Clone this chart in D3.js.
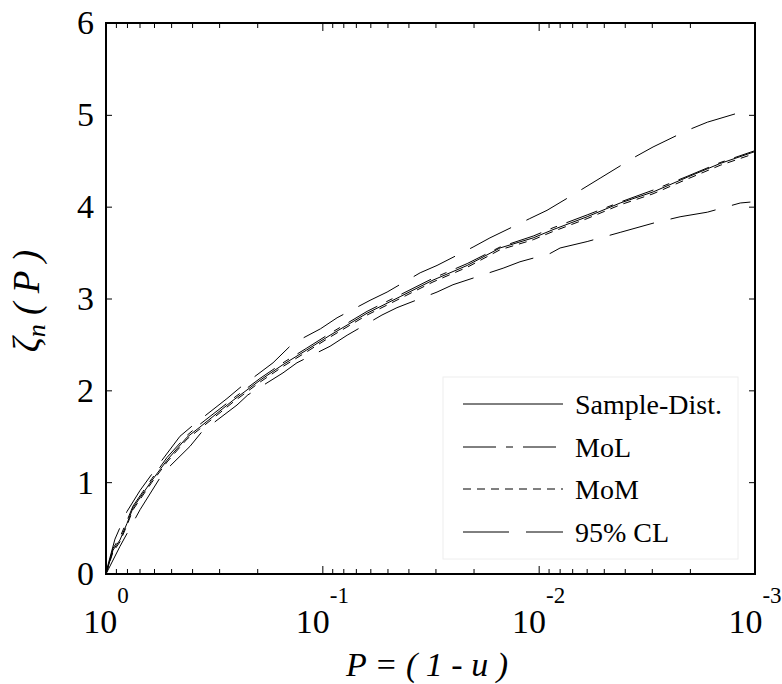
<!DOCTYPE html>
<html>
<head>
<meta charset="utf-8">
<script src="https://cdn.jsdelivr.net/npm/d3@7"></script>
<style>
  html, body { margin: 0; padding: 0; background: #fff; }
  svg { display: block; }
</style>
</head>
<body>
<svg id="chart" width="782" height="684"></svg>
<script>
// ---------- data ----------
const pCenter = [1, 0.928, 0.862, 0.800, 0.750, 0.674, 0.613, 0.522, 0.422, 0.368, 0.259, 0.194, 0.152, 0.118,
  0.0921, 0.0621, 0.0437, 0.0308, 0.0214, 0.0151, 0.0106, 0.00858, 0.00597, 0.00420, 0.00296, 0.00206, 0.00145, 0.001];
const sampleDist = [0, 0.26, 0.37, 0.55, 0.72, 0.88, 1.02, 1.24, 1.49, 1.60, 1.89, 2.11, 2.28, 2.44,
  2.60, 2.84, 3.02, 3.20, 3.36, 3.55, 3.66, 3.75, 3.89, 4.04, 4.16, 4.32, 4.47, 4.60];
const moL = [0, 0.28, 0.40, 0.58, 0.74, 0.90, 1.04, 1.27, 1.51, 1.63, 1.91, 2.13, 2.30, 2.46,
  2.62, 2.86, 3.04, 3.22, 3.38, 3.56, 3.68, 3.77, 3.91, 4.05, 4.18, 4.33, 4.48, 4.61];
const moM = [0, 0.24, 0.35, 0.53, 0.70, 0.86, 1.00, 1.22, 1.47, 1.58, 1.87, 2.09, 2.26, 2.42,
  2.58, 2.82, 3.00, 3.18, 3.34, 3.53, 3.64, 3.73, 3.87, 4.02, 4.14, 4.30, 4.45, 4.58];

const pUpper = [1, 0.909, 0.800, 0.696, 0.563, 0.455, 0.396, 0.276, 0.240, 0.169, 0.137, 0.102, 0.0855, 0.0602,
  0.0502, 0.0353, 0.0295, 0.0201, 0.0168, 0.0110, 0.00915, 0.00716, 0.00520, 0.00366, 0.00296, 0.00206, 0.00166, 0.00105];
const clUpper = [0.02, 0.38, 0.68, 0.91, 1.21, 1.50, 1.62, 1.91, 2.03, 2.30, 2.51, 2.67, 2.79, 2.98,
  3.07, 3.28, 3.36, 3.56, 3.66, 3.87, 3.96, 4.11, 4.31, 4.53, 4.65, 4.83, 4.92, 5.06];

const pLower = [1, 0.862, 0.696, 0.545, 0.409, 0.360, 0.248, 0.221, 0.152, 0.131, 0.0921, 0.0768, 0.0530, 0.0452,
  0.0295, 0.0249, 0.0146, 0.0122, 0.00886, 0.00796, 0.00597, 0.00420, 0.00296, 0.00222, 0.00166, 0.00117, 0.00105];
const clLower = [0, 0.30, 0.70, 1.10, 1.39, 1.55, 1.84, 1.95, 2.19, 2.30, 2.48, 2.60, 2.82, 2.90,
  3.07, 3.15, 3.33, 3.40, 3.49, 3.55, 3.62, 3.72, 3.82, 3.89, 3.94, 4.04, 4.05];

const xMajorTicks = [1, 0.1, 0.01, 0.001];
const xMajorExp = ["0", "-1", "-2", "-3"];
const yTicks = [0, 1, 2, 3, 4, 5, 6];
const legendLabels = ["Sample-Dist.", "MoL", "MoM", "95% CL"];

// ---------- layout ----------
const FONT = "'Liberation Serif', 'Times New Roman', Times, 'DejaVu Serif', serif";
const NARROW = "'Liberation Serif', 'Liberation Sans Narrow', 'Arial Narrow', 'Liberation Sans', sans-serif";
const svg = d3.select("#chart").attr("font-family", FONT);
const L = 106, R = 755, T = 23, B = 574;
const x = d3.scaleLog().domain([1, 0.001]).range([L, R]);
const y = d3.scaleLinear().domain([0, 6]).range([B, T]);

const xMinor = [];
for (let k = 0; k < 3; k++) for (let m = 2; m <= 9; m++) xMinor.push(m * Math.pow(10, -(k + 1)));

function styleAxis(g) {
  g.attr("font-family", FONT);
  g.select(".domain").remove();
  g.selectAll(".tick line").attr("stroke", "#000").attr("stroke-width", 1);
}
svg.append("g").attr("transform", `translate(0,${B})`)
  .call(d3.axisBottom(x).tickValues(xMinor).tickSizeInner(-5).tickSizeOuter(0).tickFormat(""))
  .call(styleAxis);
svg.append("g").attr("transform", `translate(0,${B})`)
  .call(d3.axisBottom(x).tickValues(xMajorTicks).tickSizeInner(-8).tickSizeOuter(0).tickFormat(""))
  .call(styleAxis);
svg.append("g").attr("transform", `translate(0,${T})`)
  .call(d3.axisTop(x).tickValues(xMinor).tickSizeInner(-5).tickSizeOuter(0).tickFormat(""))
  .call(styleAxis);
svg.append("g").attr("transform", `translate(0,${T})`)
  .call(d3.axisTop(x).tickValues(xMajorTicks).tickSizeInner(-8).tickSizeOuter(0).tickFormat(""))
  .call(styleAxis);

const yAxisG = svg.append("g").attr("transform", `translate(${L},0)`)
  .call(d3.axisLeft(y).tickValues(yTicks).tickSizeInner(-6).tickSizeOuter(0).tickPadding(12).tickFormat(d3.format("d")))
  .call(styleAxis);
yAxisG.selectAll(".tick text").attr("font-size", 34).attr("font-family", NARROW).attr("fill", "#000");
svg.append("g").attr("transform", `translate(${R},0)`)
  .call(d3.axisRight(y).tickValues(yTicks).tickSizeInner(-6).tickSizeOuter(0).tickFormat(""))
  .call(styleAxis);

// x tick labels with superscripts
xMajorTicks.forEach((v, i) => {
  const t = svg.append("text")
    .attr("x", x(v)).attr("y", 633)
    .attr("text-anchor", "middle")
    .attr("font-family", NARROW)
    .attr("font-size", 34)
    .text("10");
  t.append("tspan").attr("dy", -30).attr("font-size", 23).text(xMajorExp[i]);
});

// ---------- curves ----------
const line = d3.line().x(d => x(d[0])).y(d => y(d[1]));
const plot = svg.append("g");
function drawSeries(ps, vs, dash) {
  plot.append("path")
    .datum(ps.map((p, i) => [p, vs[i]]))
    .attr("d", line)
    .attr("fill", "none")
    .attr("stroke", "#000")
    .attr("stroke-width", 1)
    .attr("stroke-dasharray", dash);
}
const dashSample = null, dashMoL = "33,10,7,10", dashMoM = "8,6", dashCL = "46,17";
drawSeries(pUpper, clUpper, dashCL);
drawSeries(pLower, clLower, dashCL);
drawSeries(pCenter, moL, dashMoL);
drawSeries(pCenter, moM, dashMoM);
drawSeries(pCenter, sampleDist, dashSample);

// frame
svg.append("rect").attr("x", L).attr("y", T).attr("width", R - L).attr("height", B - T)
  .attr("fill", "none").attr("stroke", "#000").attr("stroke-width", 2);

// ---------- legend ----------
const lg = svg.append("g");
lg.append("rect").attr("x", 443).attr("y", 377).attr("width", 295).attr("height", 182)
  .attr("fill", "#fff").attr("stroke", "#eeeeee").attr("stroke-width", 1);
const legendDash = [dashSample, dashMoL, dashMoM, dashCL];
const legendY = [404, 447, 489, 532];
legendLabels.forEach((lab, i) => {
  lg.append("line").attr("x1", 463).attr("x2", 563).attr("y1", legendY[i]).attr("y2", legendY[i])
    .attr("stroke", "#000").attr("stroke-width", 1).attr("stroke-dasharray", legendDash[i]);
  lg.append("text").attr("x", 575).attr("y", legendY[i] + 10).attr("font-size", 28).text(lab);
});

// ---------- axis titles ----------
const yl = svg.append("text")
  .attr("transform", "translate(39,301) rotate(-90)")
  .attr("text-anchor", "middle")
  .attr("font-size", 37)
  .attr("font-style", "italic");
yl.append("tspan").text("ζ");
yl.append("tspan").attr("font-size", 26).attr("dy", 6).text("n");
yl.append("tspan").attr("dy", -6).text(" ( P )");

svg.append("text")
  .attr("x", 427).attr("y", 676)
  .attr("text-anchor", "middle")
  .attr("font-size", 34)
  .attr("font-style", "italic")
  .text("P = ( 1 - u )");
</script>
</body>
</html>
